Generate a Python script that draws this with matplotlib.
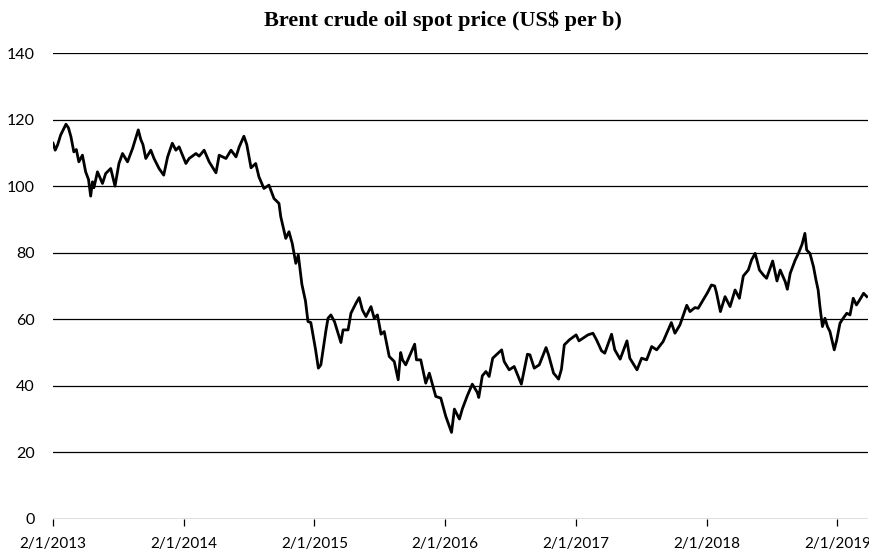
import matplotlib
matplotlib.use("Agg")
import matplotlib.pyplot as plt
import pandas as pd

# Brent spot price (US$ per barrel)
dates = [
    "2013-01-02", "2013-01-08", "2013-01-15", "2013-01-23", "2013-02-07", "2013-02-14",
    "2013-02-21", "2013-03-01", "2013-03-08", "2013-03-15", "2013-03-25", "2013-04-03",
    "2013-04-11", "2013-04-17", "2013-04-22", "2013-04-26", "2013-05-06", "2013-05-20",
    "2013-05-29", "2013-06-12", "2013-06-24", "2013-07-05", "2013-07-15", "2013-07-29",
    "2013-08-12", "2013-08-28", "2013-09-04", "2013-09-10", "2013-09-18", "2013-10-02",
    "2013-10-11", "2013-10-25", "2013-11-07", "2013-11-18", "2013-12-01", "2013-12-11",
    "2013-12-20", "2014-01-08", "2014-01-17", "2014-02-05", "2014-02-14", "2014-02-28",
    "2014-03-14", "2014-04-02", "2014-04-11", "2014-04-30", "2014-05-14", "2014-05-28",
    "2014-06-06", "2014-06-19", "2014-06-27", "2014-07-09", "2014-07-22", "2014-07-31",
    "2014-08-14", "2014-08-28", "2014-09-11", "2014-09-25", "2014-09-30", "2014-10-14",
    "2014-10-23", "2014-11-01", "2014-11-11", "2014-11-18", "2014-11-28", "2014-12-08",
    "2014-12-15", "2014-12-23", "2015-01-05", "2015-01-13", "2015-01-20", "2015-02-03",
    "2015-02-09", "2015-02-17", "2015-02-27", "2015-03-17", "2015-03-23", "2015-04-06",
    "2015-04-14", "2015-04-28", "2015-05-07", "2015-05-16", "2015-05-26", "2015-06-09",
    "2015-06-18", "2015-06-27", "2015-07-07", "2015-07-16", "2015-07-30", "2015-08-13",
    "2015-08-24", "2015-08-31", "2015-09-05", "2015-09-14", "2015-10-09", "2015-10-14",
    "2015-10-26", "2015-11-09", "2015-11-19", "2015-12-07", "2015-12-21", "2016-01-04",
    "2016-01-20", "2016-01-28", "2016-02-11", "2016-02-19", "2016-03-04", "2016-03-18",
    "2016-04-01", "2016-04-05", "2016-04-15", "2016-04-25", "2016-05-04", "2016-05-14",
    "2016-06-08", "2016-06-15", "2016-06-29", "2016-07-13", "2016-08-02", "2016-08-19",
    "2016-08-26", "2016-09-07", "2016-09-21", "2016-10-10", "2016-10-17", "2016-10-31",
    "2016-11-14", "2016-11-22", "2016-11-30", "2016-12-14", "2017-01-02", "2017-01-10",
    "2017-01-21", "2017-02-04", "2017-02-18", "2017-02-28", "2017-03-14", "2017-03-23",
    "2017-04-11", "2017-04-20", "2017-05-05", "2017-05-24", "2017-06-01", "2017-06-21",
    "2017-07-04", "2017-07-18", "2017-08-01", "2017-08-15", "2017-09-02", "2017-09-25",
    "2017-10-05", "2017-10-19", "2017-11-07", "2017-11-16", "2017-11-30", "2017-12-09",
    "2017-12-23", "2018-01-04", "2018-01-15", "2018-01-24", "2018-01-29", "2018-02-09",
    "2018-02-22", "2018-03-08", "2018-03-22", "2018-04-03", "2018-04-14", "2018-04-28",
    "2018-05-07", "2018-05-17", "2018-05-29", "2018-06-09", "2018-06-18", "2018-07-05",
    "2018-07-17", "2018-07-26", "2018-08-09", "2018-08-15", "2018-08-23", "2018-09-06",
    "2018-09-15", "2018-09-25", "2018-10-03", "2018-10-08", "2018-10-17", "2018-10-27",
    "2018-11-03", "2018-11-09", "2018-11-14", "2018-11-21", "2018-11-28", "2018-12-05",
    "2018-12-12", "2018-12-24", "2018-12-31", "2019-01-09", "2019-01-18", "2019-01-28",
    "2019-02-06", "2019-02-15", "2019-02-24", "2019-03-05", "2019-03-16", "2019-03-25",
]
prices = [
    112.9, 110.8, 112.5, 115.3, 118.6, 117.5,
    114.8, 110.3, 111.0, 107.3, 109.3, 104.3,
    102.0, 97.0, 101.3, 99.5, 104.3, 100.8,
    103.8, 105.3, 100.0, 106.8, 109.8, 107.3,
    111.3, 116.9, 114.0, 112.5, 108.3, 110.8,
    108.3, 105.3, 103.3, 108.8, 112.9, 110.8,
    111.8, 106.8, 108.3, 109.8, 109.0, 110.8,
    107.3, 104.0, 109.3, 108.3, 110.8, 108.8,
    111.8, 115.0, 112.5, 105.5, 106.8, 102.8,
    99.3, 100.3, 96.3, 94.8, 90.8, 84.3,
    86.3, 82.8, 76.8, 79.3, 70.5, 65.5,
    59.3, 59.0, 51.0, 45.3, 46.3, 56.5,
    60.3, 61.3, 59.3, 53.0, 56.8, 56.8,
    61.8, 64.8, 66.5, 62.8, 60.8, 63.8,
    60.3, 61.3, 55.5, 56.3, 48.8, 47.3,
    41.8, 50.0, 47.8, 46.3, 52.5, 47.8,
    47.8, 40.8, 43.8, 36.8, 36.3, 30.8,
    26.0, 33.0, 30.0, 33.0, 37.0, 40.5,
    38.0, 36.5, 43.0, 44.3, 42.8, 48.3,
    50.8, 47.3, 44.8, 45.8, 40.5, 49.5,
    49.3, 45.3, 46.3, 51.5, 49.3, 43.8,
    42.0, 45.0, 52.3, 53.8, 55.3, 53.5,
    54.3, 55.3, 55.8, 53.8, 50.5, 49.8,
    55.5, 50.8, 48.0, 53.5, 48.3, 44.8,
    48.3, 47.8, 51.8, 50.8, 53.3, 59.0,
    55.8, 58.3, 64.2, 62.3, 63.5, 63.3,
    65.8, 68.0, 70.3, 70.0, 68.0, 62.3,
    66.8, 63.8, 68.8, 66.3, 73.0, 74.8,
    77.8, 79.8, 74.8, 73.3, 72.3, 77.5,
    71.5, 74.8, 71.3, 69.0, 73.8, 77.8,
    79.8, 82.5, 85.8, 80.8, 79.8, 75.8,
    71.8, 68.8, 63.8, 57.8, 60.3, 57.8,
    56.3, 50.8, 53.8, 58.8, 60.3, 61.8,
    61.3, 66.3, 64.3, 65.8, 67.8, 66.8,
]

tick_dates = ["2013-01-02", "2014-01-02", "2015-01-02", "2016-01-02",
              "2017-01-02", "2018-01-02", "2019-01-02"]
tick_labels = ["2/1/2013", "2/1/2014", "2/1/2015", "2/1/2016",
               "2/1/2017", "2/1/2018", "2/1/2019"]
y_ticks = [0, 20, 40, 60, 80, 100, 120, 140]

x = pd.to_datetime(dates)

fig = plt.figure(figsize=(8.7, 5.55), dpi=100)
ax = fig.add_axes([0.061, 0.065, 0.937, 0.8395])

# horizontal gridlines, drawn under the price line
for v in y_ticks:
    ax.axhline(v, color="black", linewidth=0.9, zorder=1)

ax.plot(x, prices, color="black", linewidth=2.0, zorder=3)

ax.set_xlim(pd.Timestamp("2013-01-02"), pd.Timestamp("2019-03-29"))
ax.set_ylim(0, 140)

ax.set_xticks(pd.to_datetime(tick_dates))
ax.set_xticklabels(tick_labels, fontfamily="Lato", fontsize=11)
ax.set_yticks(y_ticks)
ax.set_yticklabels([str(v) for v in y_ticks], fontfamily="Lato", fontsize=11.5)

ax.tick_params(axis="x", direction="out", length=5, width=0.9, color="black", pad=8)
ax.tick_params(axis="y", length=0, pad=13)

for side in ["top", "right", "left", "bottom"]:
    ax.spines[side].set_visible(False)

fig.text(0.509, 0.962, "Brent crude oil spot price (US$ per b)",
         ha="center", va="center", fontfamily="Liberation Serif",
         fontweight="bold", fontsize=16)

fig.savefig("out.png", dpi=100)
